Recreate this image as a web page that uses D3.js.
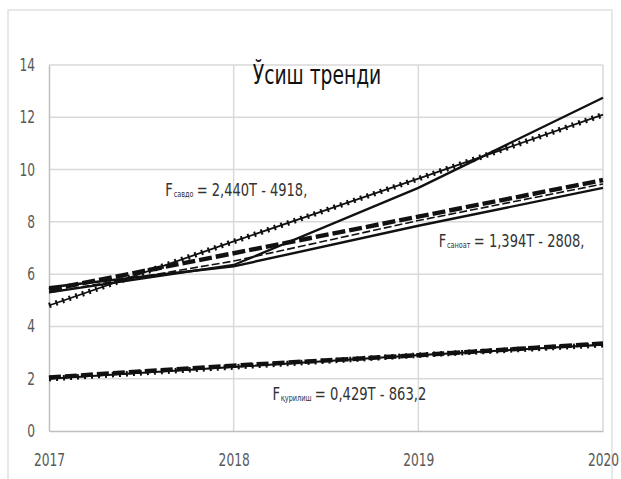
<!DOCTYPE html>
<html>
<head>
<meta charset="utf-8">
<script src="https://cdn.jsdelivr.net/npm/d3@7"></script>
<style>
  body { margin: 0; background: #fff; }
  text { font-family: "Liberation Sans Narrow", "DejaVu Sans Condensed", "Arial Narrow", sans-serif; }
</style>
</head>
<body>
<svg id="chart" width="621" height="479"></svg>
<script>
// years on the x axis
const years = [2017, 2018, 2019, 2020];
const yTicks = [0, 2, 4, 6, 8, 10, 12, 14];

// series values
const savdoTrend = [4.8, 7.25, 9.65, 12.1];
const savdoFact = [5.3, 6.35, 9.3, 12.75];
const sanoatTrend = [5.4, 6.8, 8.2, 9.6];
const sanoatFact = [5.5, 6.3, 7.85, 9.3];
const sanoatFact2 = [5.3, 6.5, 8.05, 9.45];
const qurilishTrend = [2.05, 2.5, 2.9, 3.35];
const qurilishFact = [2.0, 2.45, 2.9, 3.3];

const title = "Ўсиш тренди";
const formulas = [
  { sub: "савдо", rest: "= 2,440T - 4918,", x: 2017.63, y: 9.0, w: 142 },
  { sub: "саноат", rest: "= 1,394T - 2808,", x: 2019.11, y: 7.05, w: 146 },
  { sub: "қурилиш", rest: "= 0,429T - 863,2", x: 2018.21, y: 1.18, w: 154 }
];

const svg = d3.select("#chart");
const plotL = 49, plotR = 603, plotT = 65, plotB = 431;

// outer chart border
svg.append("rect")
  .attr("x", 8).attr("y", 10).attr("width", 604).attr("height", 480)
  .attr("fill", "none").attr("stroke", "#d9d9d9").attr("stroke-width", 1.2);

const x = d3.scaleLinear().domain([2017, 2020]).range([plotL, plotR]);
const y = d3.scaleLinear().domain([0, 14]).range([plotB, plotT]);

// gridlines
svg.append("g").selectAll("line").data(yTicks.slice(1)).enter().append("line")
  .attr("x1", plotL).attr("x2", plotR)
  .attr("y1", d => y(d)).attr("y2", d => y(d))
  .attr("stroke", "#d9d9d9").attr("stroke-width", 1.5);
svg.append("g").selectAll("line").data(years.slice(1)).enter().append("line")
  .attr("x1", d => x(d)).attr("x2", d => x(d))
  .attr("y1", plotT).attr("y2", plotB)
  .attr("stroke", "#d9d9d9").attr("stroke-width", 1.5);

// axes (labels squeezed sideways like the narrow font of the original)
const squeeze = 0.8;
const yAxis = svg.append("g").attr("transform", "translate(" + plotL + ",0)")
  .call(d3.axisLeft(y).tickValues(yTicks).tickSize(0));
yAxis.selectAll("text").attr("x", -14 / squeeze)
  .attr("transform", "scale(" + squeeze + ",1)");
const xAxis = svg.append("g").attr("transform", "translate(0," + plotB + ")")
  .call(d3.axisBottom(x).tickValues(years).tickFormat(d3.format("d")).tickSize(0).tickPadding(23));
xAxis.selectAll("text").attr("transform", "scale(" + squeeze + ",1)");
[yAxis, xAxis].forEach(function (a) {
  a.select(".domain").attr("stroke", "#bfbfbf").attr("stroke-width", 1.5);
  a.selectAll("text").attr("fill", "#595959").style("font-size", "17px");
});

const line = d3.line()
  .x((d, i) => x(years[i]))
  .y(d => y(d));

// beaded line: thin base plus dense short marks
function beaded(values) {
  svg.append("path").datum(values).attr("d", line)
    .attr("fill", "none").attr("stroke", "#111").attr("stroke-width", 1.8);
  svg.append("path").datum(values).attr("d", line)
    .attr("fill", "none").attr("stroke", "#111").attr("stroke-width", 5.5)
    .attr("stroke-dasharray", "2,5");
}
function plain(values, w, dash) {
  svg.append("path").datum(values).attr("d", line)
    .attr("fill", "none").attr("stroke", "#111").attr("stroke-width", w)
    .attr("stroke-dasharray", dash || null);
}

// construction
plain(qurilishTrend, 4.5, "12,4");
beaded(qurilishFact);
plain(qurilishFact, 1.5);

// industry
plain(sanoatFact, 2.4);
plain(sanoatFact2, 1.6, "8,3");
plain(sanoatTrend, 4.4, "13,4");

// trade
beaded(savdoTrend);
plain(savdoFact, 2.3);

// title
svg.append("g")
  .attr("transform", "translate(317,84) scale(0.8,1)")
  .append("text")
  .attr("text-anchor", "middle")
  .attr("fill", "#111")
  .style("font-size", "26px")
  .text(title);

// trend formulas: F, small subscript, then the rest, laid side by side
formulas.forEach(function (f) {
  const g = svg.append("g");
  const big = g.append("text").attr("fill", "#333").style("font-size", "18px").text("F");
  let cx = big.node().getComputedTextLength() + 1;
  const sub = g.append("text").attr("x", cx).attr("y", 1)
    .attr("fill", "#333").style("font-size", "9px").text(f.sub);
  cx += sub.node().getComputedTextLength() + 4;
  const rest = g.append("text").attr("x", cx)
    .attr("fill", "#333").style("font-size", "18px").text(f.rest);
  cx += rest.node().getComputedTextLength();
  g.attr("transform", "translate(" + x(f.x) + "," + y(f.y) + ") scale(" + (f.w / cx) + ",1)");
});
</script>
</body>
</html>
